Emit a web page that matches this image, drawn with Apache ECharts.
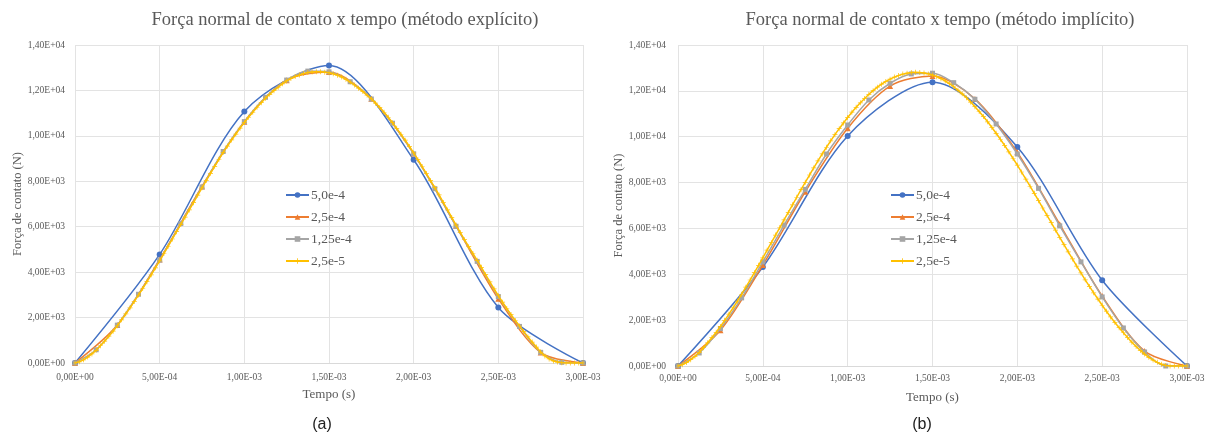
<!DOCTYPE html>
<html>
<head>
<meta charset="utf-8">
<script src="https://cdn.jsdelivr.net/npm/echarts@6/dist/echarts.min.js"></script>
<style>
html,body{margin:0;padding:0;background:#fff;}
#c{width:1215px;height:435px;}
</style>
</head>
<body>
<div id="c"></div>
<script>
// ---- data ----
const seriesNames = ['5,0e-4', '2,5e-4', '1,25e-4', '2,5e-5'];
const timeSteps = [5e-4, 2.5e-4, 1.25e-4, 2.5e-5];
const yTicks = [0, 2000, 4000, 6000, 8000, 10000, 12000, 14000];
const xTicks = [0, 0.0005, 0.001, 0.0015, 0.002, 0.0025, 0.003];

// explicit method (a)
const expl_5e4 = [0, 4780, 11070, 13100, 8950, 2440, 0];
const expl_25e4 = [0, 1670, 4560, 7770, 10620, 12450, 12810, 11630, 9220, 6040, 2830, 460, 0];
const expl_125e4 = [0, 583, 1667, 3026, 4531, 6140, 7750, 9311, 10627, 11697, 12456, 12851, 12820,
  12382, 11623, 10556, 9210, 7675, 6022, 4474, 2925, 1610, 469, 30, 0];
const expl_25e5 = [0, 50, 140, 260, 400, 560, 760, 960, 1180, 1400, 1640,
  1900, 2160, 2430, 2710, 2990, 3280, 3580, 3880, 4190, 4500,
  4820, 5140, 5460, 5780, 6100, 6420, 6740, 7060, 7390, 7710,
  8030, 8350, 8660, 8970, 9270, 9550, 9820, 10080, 10340, 10590,
  10820, 11040, 11260, 11460, 11660, 11830, 11990, 12140, 12290, 12420,
  12520, 12610, 12680, 12740, 12790, 12810, 12825, 12825, 12805, 12780,
  12730, 12670, 12590, 12490, 12370, 12240, 12100, 11950, 11790, 11630,
  11440, 11250, 11040, 10820, 10580, 10330, 10070, 9810, 9530, 9250,
  8950, 8650, 8340, 8030, 7720, 7400, 7070, 6740, 6410, 6070,
  5750, 5430, 5120, 4820, 4520, 4210, 3890, 3570, 3260, 2960,
  2680, 2400, 2130, 1870, 1630, 1390, 1150, 920, 700, 480,
  310, 180, 90, 40, 15, 0, 0, 0, 0, 0];

// implicit method (b)
const impl_5e4 = [0, 4320, 10030, 12380, 9550, 3740, 0];
const impl_25e4 = [0, 1560, 4400, 7600, 10370, 12210, 12650, 11650, 9320, 6180, 3050, 650, 0];
const impl_125e4 = [0, 568, 1633, 2970, 4541, 6144, 7703, 9245, 10511, 11603, 12332, 12738, 12769,
  12358, 11633, 10555, 9245, 7747, 6114, 4541, 3013, 1659, 611, 0, 0];
const impl_25e5 = [0, 55, 150, 275, 420, 590, 800, 1010, 1240, 1470, 1720,
  1990, 2260, 2540, 2830, 3130, 3440, 3750, 4070, 4390, 4720,
  5050, 5380, 5710, 6040, 6370, 6700, 7030, 7360, 7690, 8010,
  8330, 8640, 8950, 9250, 9540, 9820, 10090, 10350, 10600, 10840,
  11070, 11280, 11480, 11670, 11850, 12010, 12160, 12290, 12410, 12510,
  12600, 12670, 12730, 12770, 12800, 12810, 12800, 12780, 12740, 12690,
  12620, 12530, 12430, 12310, 12180, 12030, 11870, 11700, 11510, 11310,
  11100, 10880, 10650, 10400, 10150, 9890, 9620, 9340, 9050, 8760,
  8460, 8150, 7840, 7530, 7210, 6890, 6570, 6250, 5930, 5610,
  5290, 4980, 4670, 4360, 4060, 3760, 3470, 3190, 2920, 2650,
  2390, 2140, 1900, 1670, 1450, 1240, 1040, 850, 680, 520,
  380, 260, 160, 80, 25, 0, 0, 0, 0, 0];

const titles = ['Força normal de contato x tempo (método explícito)', 'Força normal de contato x tempo (método implícito)'];
const captions = ['(a)', '(b)'];
const xName = 'Tempo (s)';
const yName = 'Força de contato (N)';

// ---- styling ----
const colors = ['#4472C4', '#ED7D31', '#A5A5A5', '#FFC000'];
const symbols = ['circle', 'triangle', 'rect', 'path://M4.3,0H5.7V4.3H10V5.7H5.7V10H4.3V5.7H0V4.3H4.3Z'];
const symbolSizes = [6, 6, 5, 5];
const serif = '"Liberation Serif", "Times New Roman", serif';
const txt = '#595959';

function sci(v) {
  if (Math.abs(v) < 1e-12) return '0,00E+00';
  const s = Number(v).toExponential(2);
  const parts = s.split('e');
  const sign = parts[1][0] === '-' ? '-' : '+';
  let d = parts[1].replace(/[+-]/, '');
  if (d.length < 2) d = '0' + d;
  return parts[0].replace('.', ',') + 'E' + sign + d;
}

const grids = [
  {left: 75, top: 45, width: 508, height: 318, outerBoundsMode: 'none', containLabel: false},
  {left: 678, top: 45, width: 509, height: 321, outerBoundsMode: 'none', containLabel: false}
];
const xLabelMargin = [9, 7];
const xNameGap = [25, 25];
const yNameGap = [51, 53];
const yLabelMargin = [10, 12];

function makeAxisX(i) {
  return {
    type: 'value', gridIndex: i, min: xTicks[0], max: xTicks[xTicks.length - 1], interval: xTicks[1] - xTicks[0],
    name: xName, nameLocation: 'middle', nameGap: xNameGap[i], nameMoveOverlap: false,
    nameTextStyle: {fontFamily: serif, fontSize: 13, color: txt},
    axisLine: {show: true, lineStyle: {color: '#d9d9d9', width: 1}},
    axisTick: {show: false},
    axisLabel: {formatter: sci, fontFamily: serif, fontSize: 9.5, color: txt, margin: xLabelMargin[i], showMaxLabel: true, showMinLabel: true},
    splitLine: {show: true, lineStyle: {color: '#e3e3e3', width: 1}}
  };
}
function makeAxisY(i) {
  return {
    type: 'value', gridIndex: i, min: yTicks[0], max: yTicks[yTicks.length - 1], interval: yTicks[1] - yTicks[0],
    name: yName, nameLocation: 'middle', nameGap: yNameGap[i], nameMoveOverlap: false,
    nameTextStyle: {fontFamily: serif, fontSize: 12.5, color: txt},
    axisLine: {show: false},
    axisTick: {show: false},
    axisLabel: {formatter: sci, fontFamily: serif, fontSize: 9.5, color: txt, margin: yLabelMargin[i]},
    splitLine: {show: true, lineStyle: {color: '#e3e3e3', width: 1}}
  };
}

const dataSets = [
  [expl_5e4, expl_25e4, expl_125e4, expl_25e5],
  [impl_5e4, impl_25e4, impl_125e4, impl_25e5]
];

const series = [];
dataSets.forEach((sets, g) => {
  sets.forEach((vals, k) => {
    const dt = timeSteps[k];
    series.push({
      name: seriesNames[k],
      type: 'line',
      xAxisIndex: g, yAxisIndex: g,
      data: vals.map((v, i) => [i * dt, v]),
      smooth: k === 3 ? false : 0.3,
      symbol: symbols[k],
      symbolSize: symbolSizes[k],
      showSymbol: true,
      color: colors[k],
      lineStyle: {color: colors[k], width: 1.5},
      itemStyle: {color: colors[k]},
      z: 2 + k,
      animation: false
    });
  });
});

const legendBase = {
  orient: 'vertical', itemWidth: 23, itemHeight: 7, itemGap: 8,
  textStyle: {fontFamily: serif, fontSize: 13.5, color: txt, padding: [0, 0, 0, -3]},
  data: seriesNames
};

const sans = '"Liberation Sans", "Open Sans", sans-serif';
const graphics = [
  {type: 'text', x: 345, y: 20, style: {text: titles[0], fill: txt, fontFamily: serif, fontSize: 18.5, align: 'center', verticalAlign: 'middle'}},
  {type: 'text', x: 940, y: 20, style: {text: titles[1], fill: txt, fontFamily: serif, fontSize: 18.5, align: 'center', verticalAlign: 'middle'}},
  {type: 'text', x: 322, y: 425, style: {text: captions[0], fill: '#222', fontFamily: sans, fontSize: 16, align: 'center', verticalAlign: 'middle'}},
  {type: 'text', x: 922, y: 425, style: {text: captions[1], fill: '#222', fontFamily: sans, fontSize: 16, align: 'center', verticalAlign: 'middle'}}
];

const chart = echarts.init(document.getElementById('c'), null, {renderer: 'canvas'});
chart.setOption({
  backgroundColor: '#fff',
  animation: false,
  grid: grids,
  xAxis: [makeAxisX(0), makeAxisX(1)],
  yAxis: [makeAxisY(0), makeAxisY(1)],
  legend: [
    Object.assign({}, legendBase, {left: 280, top: 183}),
    Object.assign({}, legendBase, {left: 885, top: 183})
  ],
  series: series,
  graphic: graphics
});
</script>
</body>
</html>
